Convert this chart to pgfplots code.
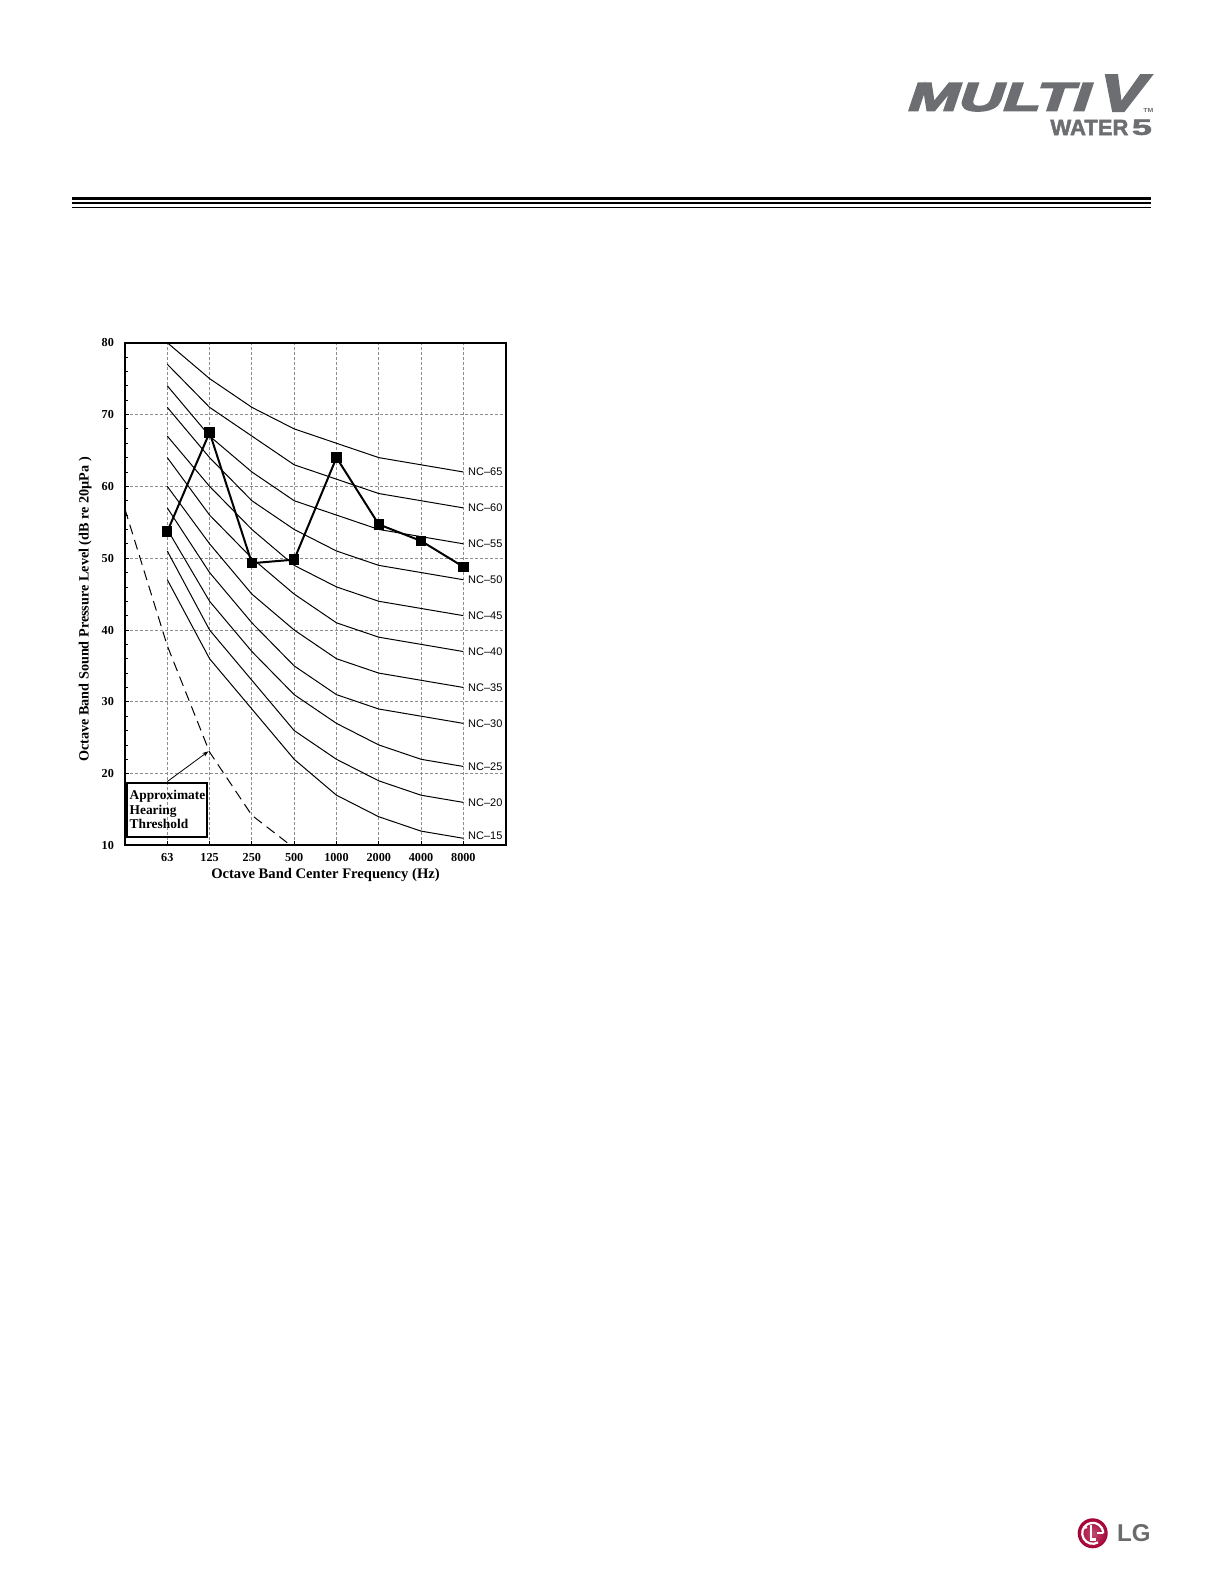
\documentclass[border=0pt]{standalone}
\usepackage{pgfplots}
\pgfplotsset{compat=1.18}
\usepackage{graphicx}
\usetikzlibrary{arrows.meta}
\usepackage{fontspec}
\setmainfont{Liberation Serif}
\newfontfamily\nsans{Liberation Sans}
\newfontfamily\logofont[FakeSlant=0.22,FakeBold=4]{Liberation Sans}
\newfontfamily\waterfont[FakeBold=2]{Liberation Sans}
\definecolor{logogray}{HTML}{6D6E71}
\definecolor{lggray}{HTML}{6B6B6B}
\definecolor{lgred}{HTML}{A50034}
\definecolor{gridgray}{HTML}{8C8C8C}
\begin{document}
\begin{tikzpicture}
% page background (pixel units, y downward)
\begin{scope}[x=0.5pt,y=-0.5pt,yshift=792pt]
  \fill[white] (0,0) rectangle (1224,1584);
  % header rules
  \fill[black] (72,197.4) rectangle (1151,199.8);
  \fill[black] (72,202.0) rectangle (1151,204.4);
  \fill[black] (72,206.8) rectangle (1151,207.9);
\end{scope}

\begin{axis}[
  at={(62.5pt,369.25pt)}, anchor=south west,
  scale only axis, width=190.35pt, height=251.4pt,
  xmin=0, xmax=9, ymin=10, ymax=80,
  xtick={1,...,8}, xticklabels={63,125,250,500,1000,2000,4000,8000},
  ytick={10,20,...,80},
  minor y tick num=4,
  xtick pos=bottom, ytick pos=left, tick align=inside,
  major tick length=2pt, minor tick length=1.5pt,
  grid=major,
  major grid style={gridgray, dash pattern=on 1.5pt off 1pt, line width=0.45pt},
  axis line style={line width=1pt},
  tick style={black, line width=0.4pt},
  ticklabel style={font=\fontsize{6.1}{6.5}\selectfont\bfseries},
  /pgf/number format/assume math mode=true,
  xticklabel style={yshift=-0.2pt},
  yticklabel style={xshift=-2pt},
  clip=false,
]
% NC curves
\addplot[black, line width=0.5pt] coordinates {(1,80)(2,75)(3,71)(4,68)(5,66)(6,64)(7,63)(8,62)};
\addplot[black, line width=0.5pt] coordinates {(1,77)(2,71)(3,67)(4,63)(5,61)(6,59)(7,58)(8,57)};
\addplot[black, line width=0.5pt] coordinates {(1,74)(2,67)(3,62)(4,58)(5,56)(6,54)(7,53)(8,52)};
\addplot[black, line width=0.5pt] coordinates {(1,71)(2,64)(3,58)(4,54)(5,51)(6,49)(7,48)(8,47)};
\addplot[black, line width=0.5pt] coordinates {(1,67)(2,60)(3,54)(4,49)(5,46)(6,44)(7,43)(8,42)};
\addplot[black, line width=0.5pt] coordinates {(1,64)(2,56)(3,50)(4,45)(5,41)(6,39)(7,38)(8,37)};
\addplot[black, line width=0.5pt] coordinates {(1,60)(2,52)(3,45)(4,40)(5,36)(6,34)(7,33)(8,32)};
\addplot[black, line width=0.5pt] coordinates {(1,57)(2,48)(3,41)(4,35)(5,31)(6,29)(7,28)(8,27)};
\addplot[black, line width=0.5pt] coordinates {(1,54)(2,44)(3,37)(4,31)(5,27)(6,24)(7,22)(8,21)};
\addplot[black, line width=0.5pt] coordinates {(1,51)(2,40)(3,33)(4,26)(5,22)(6,19)(7,17)(8,16)};
\addplot[black, line width=0.5pt] coordinates {(1,47)(2,36)(3,29)(4,22)(5,17)(6,14)(7,12)(8,11)};
% hearing threshold
\addplot[black, line width=0.5pt, dash pattern=on 5pt off 3pt] coordinates {(0,56.8)(1,37.8)(2,23)(3,14.2)(3.92,10)};
% measured data
\addplot[black, line width=1pt, mark=square*, mark size=2.1pt] coordinates {(1,53.7)(2,67.5)(3,49.3)(4,49.8)(5,64)(6,54.7)(7,52.4)(8,48.8)};
% NC labels
\begin{scope}[every node/.style={anchor=west, inner sep=0.5pt, font=\nsans\fontsize{5.5}{6}\selectfont}]
\node at (axis cs:8.08,62) {NC–65};
\node at (axis cs:8.08,57) {NC–60};
\node at (axis cs:8.08,52) {NC–55};
\node at (axis cs:8.08,47) {NC–50};
\node at (axis cs:8.08,42) {NC–45};
\node at (axis cs:8.08,37) {NC–40};
\node at (axis cs:8.08,32) {NC–35};
\node at (axis cs:8.08,27) {NC–30};
\node at (axis cs:8.08,21) {NC–25};
\node at (axis cs:8.08,16) {NC–20};
\node at (axis cs:8.08,11.3) {NC–15};
\end{scope}
% annotation
\draw[-{Stealth[length=3pt,width=2.2pt]}, line width=0.4pt] (axis cs:1,18.9) -- (axis cs:1.97,23.1);
\draw[line width=1pt] (axis cs:0.04,11.2) rectangle (axis cs:1.93,18.7);
\node[anchor=north west, align=left, inner sep=0pt, font=\fontsize{6.7}{7.25}\selectfont\bfseries] at (axis cs:0.1,17.7) {Approximate\\Hearing\\Threshold};
\end{axis}

\begin{scope}[x=0.5pt,y=-0.5pt,yshift=792pt]
  % axis titles
  \node[rotate=90, inner sep=0pt, font=\fontsize{7.1}{8}\selectfont\bfseries] at (85.3,609.5) {Octave Band Sound Pressure Level (dB re 20µPa )};
  \node[inner sep=0pt, font=\fontsize{7.3}{8}\selectfont\bfseries] at (325.5,875) {Octave Band Center Frequency (Hz)};
  % header logo
  \node[anchor=south west, inner sep=0pt, text=logogray] at (905,111.5) {\resizebox{91pt}{13.8pt}{\logofont\bfseries MULTI}};
  \node[anchor=south west, inner sep=0pt, text=logogray] at (1095,111.5) {\resizebox{23pt}{18pt}{\logofont\bfseries V}};
  \node[anchor=south west, inner sep=0pt, text=logogray] at (1143,112.5) {\resizebox{5pt}{2pt}{\nsans\bfseries TM}};
  \node[anchor=south west, inner sep=0pt, text=logogray] at (1050,135.5) {\resizebox{39pt}{7.6pt}{\waterfont\bfseries WATER}};
  \node[anchor=south west, inner sep=0pt, text=logogray] at (1131.5,135.5) {\resizebox{10pt}{7.6pt}{\waterfont\bfseries 5}};
  % LG logo
  \shade[inner color=lgred!70!white, outer color=lgred] (1092.7,1533.3) circle (15);
  \draw[white, line width=1.1pt] (1092.7,1533.3) ++(60:10.5) arc[start angle=60, end angle=360, radius=10.5];
  \draw[white, line width=1.1pt] (1103.2,1533.3) -- (1096.5,1533.3);
  \draw[white, line width=1.1pt] (1091,1525.5) -- (1091,1539.5) -- (1096,1539.5);
  \fill[white] (1085.8,1527.5) circle (1.5);
  \node[anchor=south west, inner sep=0pt, text=lggray] at (1116.7,1542) {\resizebox{16.7pt}{8.5pt}{\nsans\bfseries LG}};
\end{scope}
\end{tikzpicture}
\end{document}
